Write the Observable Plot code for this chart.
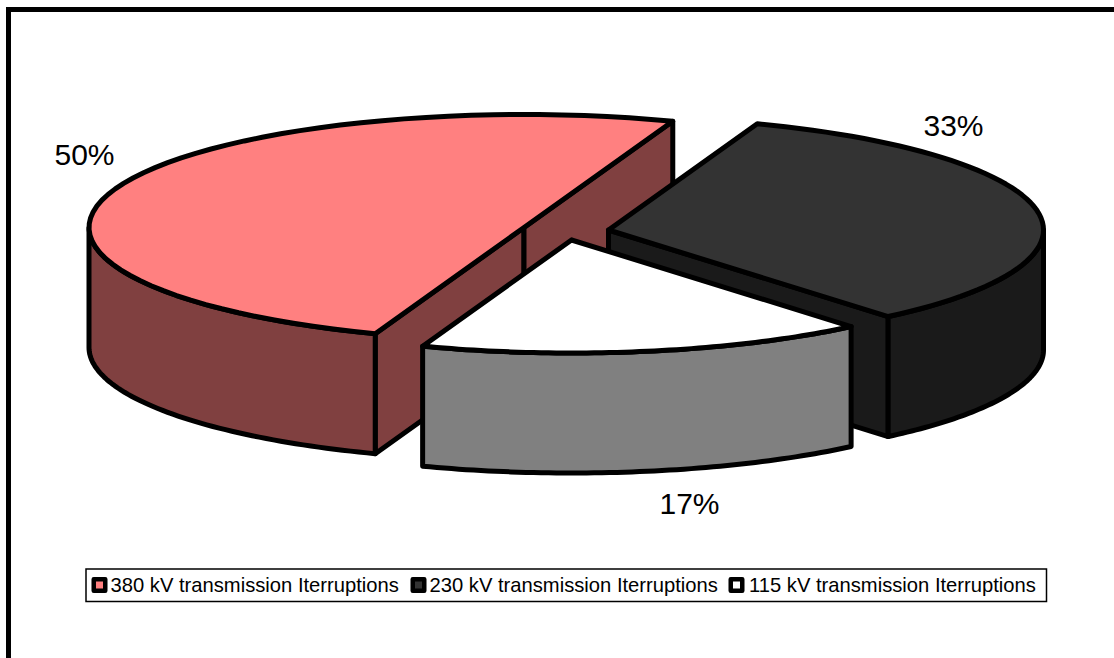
<!DOCTYPE html>
<html>
<head>
<meta charset="utf-8">
<script src="https://cdn.jsdelivr.net/npm/d3@7"></script>
<script src="https://cdn.jsdelivr.net/npm/@observablehq/plot@0.6"></script>
<style>html,body{margin:0;padding:0;background:#fff;overflow:hidden}svg{display:block}</style>
</head>
<body>
<div id="chart"></div>
<script>
const categories = ["380 kV transmission Iterruptions", "230 kV transmission Iterruptions", "115 kV transmission Iterruptions"];
const shares = [50, 33.33, 16.67];
const shareLabels = ["50%", "33%", "17%"];
const topColors = ["#FF8080", "#333333", "#FFFFFF"];
const sideColors = ["#804040", "#1A1A1A", "#808080"];

// layout of the tilted pie
const centers = [[523.5, 227], [608, 229.5], [571, 239.5]];
const startAngles = [200, 20, 140];
const rx = 435, ry = 113, depth = 120;
const labelAt = [[84, 155], [953, 126], [689, 504]];
const legendSwatchX = [99, 418, 736];
const legendTextX = [110, 429, 748.5];

const spans = shares.map(s => s / 100 * 360);
const pt = (i, deg, dz = 0) => {
  const a = deg * Math.PI / 180;
  return {x: centers[i][0] + rx * Math.sin(a), y: centers[i][1] - ry * Math.cos(a) + dz};
};
const arc = (i, a0, a1, dz = 0) => d3.range(0, 61).map(k => pt(i, a0 + (a1 - a0) * k / 60, dz));
const centerPt = (i, dz = 0) => ({x: centers[i][0], y: centers[i][1] + dz});
const closed = p => [...p, p[0]];
const poly = (pts, fill) => Plot.line(closed(pts), {x: "x", y: "y", fill, stroke: "#000", strokeWidth: 5, strokeLinejoin: "round", strokeLinecap: "round", curve: "linear"});

const topFace = i => poly([centerPt(i), ...arc(i, startAngles[i], startAngles[i] + spans[i])], topColors[i]);
const wall = (i, a0, a1) => poly([...arc(i, a0, a1), ...arc(i, a1, a0, depth)], sideColors[i]);
const face = (i, a) => poly([centerPt(i), pt(i, a), pt(i, a, depth), centerPt(i, depth)], sideColors[i]);

const endAngle = i => startAngles[i] + spans[i];
const marks = [
  // frame
  Plot.rect([{}], {x1: () => 8.5, x2: () => 1130, y1: () => 9.5, y2: () => 680, fill: "#fff", stroke: "#000", strokeWidth: 5, clip: true}),
  // 380 kV slice
  face(0, startAngles[0]), face(0, endAngle(0)),
  wall(0, startAngles[0], 270), topFace(0),
  // 230 kV slice
  face(1, endAngle(1)), wall(1, 90, endAngle(1)), topFace(1),
  // 115 kV slice
  wall(2, startAngles[2], endAngle(2)), topFace(2),
  // share labels
  Plot.text(shareLabels, {x: (d, i) => labelAt[i][0], y: (d, i) => labelAt[i][1], text: d => d, fontSize: 30, fill: "#000", fontFamily: "Liberation Sans"}),
  // legend
  Plot.rect([{}], {x1: () => 86, x2: () => 1046.5, y1: () => 569, y2: () => 601.5, fill: "#fff", stroke: "#000", strokeWidth: 1.5}),
  Plot.dot(categories, {x: (d, i) => legendSwatchX[i], y: () => 584.5, symbol: "square", r: 6.5, fill: (d, i) => topColors[i], stroke: "#000", strokeWidth: 4.5, strokeLinejoin: "round"}),
  Plot.text(categories, {x: (d, i) => legendTextX[i], y: () => 585, text: d => d, textAnchor: "start", fontSize: 20.2, fill: "#000", fontFamily: "Liberation Sans"})
];

const chart = Plot.plot({
  width: 1114, height: 658,
  margin: 0,
  x: {type: "linear", domain: [0, 1114], range: [0, 1114], axis: null},
  y: {type: "linear", domain: [0, 658], range: [0, 658], axis: null},
  color: {type: "identity"},
  style: {background: "#fff"},
  marks
});
document.getElementById("chart").append(chart);
</script>
</body>
</html>
